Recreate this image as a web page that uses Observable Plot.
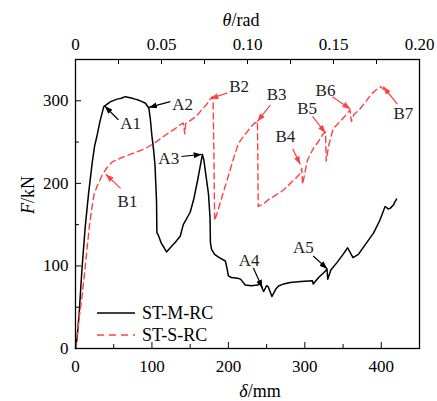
<!DOCTYPE html>
<html><head><meta charset="utf-8">
<script src="https://cdn.jsdelivr.net/npm/d3@7"></script>
<script src="https://cdn.jsdelivr.net/npm/@observablehq/plot@0.6"></script>
<style>body{margin:0;background:#fff}#chart{position:relative;width:437px;height:401px}
#chart svg, #chart svg text{font-family:"Liberation Serif", serif !important}</style>
</head><body><div id="chart"></div>
<script>
// ST-M-RC (black solid)
const mDelta = [0,2,4.8,8.3,12.6,17,22,25,28,32,37,46,54.5,60,65,70,74,78,82,87,91.5,96,98,100,102,104,105,106,106.5,108,112,116,119,124,130,137,141,150,155,160,163,166,168,170,174,176,176.5,178,182,188,196,198,200,204,212,216,222,230,238,242,246,250,252,257,262,266,272,281,295,310,311,318,325,329,330,334,342,350,356,363,370,380,390,398,405,409,412,416,418,420];
const mForce = [0,12,42,94,146,187,226,245,257,275,293,299,302,303,305,304,303,302,301,299,297,291,277,257,242,222,200,178,140,138,128,122,117,122,128,136,150,165,182,205,220,235,228,214,187,158,128,120,114,110,106,98,88,86,85,84,77,76,77,78,69,76,75,63,72,76,78,80,81,82,78,86,92,96,84,95,104,114,122,110,114,127,140,155,172,169,170,174,178,181];
// ST-S-RC (red dashed)
const sDelta = [0,1,4.8,9,13.5,17.9,21,24.4,28,31,35,39.6,48,60,74,89,102,111,120,130,137,141,143,144,150,158,166,172,176,179,180,181,182,186,192,199,206,213,219,225,229,233,238,238.5,239,246,252,259,266,272,277,283,288,294,296,297,300,303,307,311,318,324,327,328,331,337,343,349,355,359,361,364,372,379,386,393,399,403];
const sForce = [0,7,37,66,106,146,168,187,196,202,210,217,226,231,236,241,248,254,260,266,271,273,260,272,276,281,290,296,302,305,300,240,155,166,185,206,228,248,256,263,268,272,275,230,172,175,180,184,188,192,196,202,206,212,218,199,212,227,235,242,251,260,262,227,245,266,272,278,284,289,275,283,290,298,307,313,317,314];
// axes
const xMajorTicks = [0,100,200,300,400];
const xMinorTicks = [50,150,250,350,450];
const yMajorTicks = [0,100,200,300];
const yMinorTicks = [50,150,250,350];
const thetaTicks = [0,0.05,0.10,0.15,0.20];
const thetaTickLabels = ["0","0.05","0.10","0.15","0.20"];
const thetaMinor = [0.025,0.075,0.125,0.175];
const deltaMax = 450, thetaMax = 0.20, forceMax = 350;
// annotations
const annLabel = ["A1","A2","A3","A4","A5","B1","B2","B3","B4","B5","B6","B7"];
const annTipX  = [38.3,96,165,244.4,329.4,39.6,176.5,238,294,327,359.5,402.6];
const annTipY  = [293.6,292,235,73.5,96.4,211,302.4,275,223,261,290,317];
const annTailX = [56,124,138.6,232.7,311,59,198.7,255,284,310,336,421];
const annTailY = [277,299,232.5,97.6,112,194,309.6,295,242,281,305,296];
const annTextX = [72,140,122,227,298,68,214,263,274.5,303,327,429];
const annTextY = [272,296,230,107,122,178,317,307,257,290,313,284];

const RED = "#ff4040", FONT = "Liberation Serif";
const W = 437, H = 401, mL = 75, mR = 18, mT = 59, mB = 53;
const iW = W - mL - mR, iH = H - mT - mB;
const th2d = t => t / thetaMax * deltaMax;
const thetaPos = thetaTicks.map(th2d);

const ann = annLabel.map((l, i) => ({label: l, tx: annTipX[i], ty: annTipY[i], sx: annTailX[i], sy: annTailY[i], lx: annTextX[i], ly: annTextY[i]}));
const annA = ann.filter(d => d.label[0] === "A"), annB = ann.filter(d => d.label[0] === "B");

function filledArrow(color) {
  const m = d3.create("svg:marker")
    .attr("viewBox", "-8 -3 8 6").attr("markerWidth", 8).attr("markerHeight", 6)
    .attr("markerUnits", "userSpaceOnUse").attr("refX", 0).attr("refY", 0).attr("orient", "auto");
  m.append("path").attr("d", "M-8,-3L0,0L-8,3Z").attr("fill", color).attr("stroke", "none");
  return m.node();
}

const svg = Plot.plot({
  width: W, height: H, marginLeft: mL, marginRight: mR, marginTop: mT, marginBottom: mB,
  style: {fontFamily: FONT, fontSize: "17px", color: "#000", background: "#fff"},
  x: {domain: [0, deltaMax]},
  y: {domain: [0, forceMax]},
  marks: [
    Plot.line(mForce, {x: mDelta, y: mForce, stroke: "#000", strokeWidth: 1.5}),
    Plot.line(sForce, {x: sDelta, y: sForce, stroke: RED, strokeWidth: 1.4, strokeDasharray: "6,4"}),
    Plot.link(annA, {x1: "sx", y1: "sy", x2: "tx", y2: "ty", stroke: "#000", strokeWidth: 1.2, markerEnd: filledArrow}),
    Plot.link(annB, {x1: "sx", y1: "sy", x2: "tx", y2: "ty", stroke: RED, strokeWidth: 1.2, markerEnd: filledArrow}),
    Plot.text(ann, {x: "lx", y: "ly", text: "label", fontSize: 17, fill: "#222"}),
    Plot.tickX(xMajorTicks, {x: d => d, insetTop: iH - 6, stroke: "#000"}),
    Plot.tickX(xMinorTicks, {x: d => d, insetTop: iH - 4, stroke: "#000"}),
    Plot.tickY(yMajorTicks, {y: d => d, insetRight: iW - 6, stroke: "#000"}),
    Plot.tickY(yMinorTicks, {y: d => d, insetRight: iW - 4, stroke: "#000"}),
    Plot.tickX(thetaTicks.concat(thetaMinor).map(th2d), {x: d => d, insetBottom: iH - 5, stroke: "#000"}),
    Plot.axisX(xMajorTicks, {anchor: "bottom", tickSize: 0, tickPadding: 11, fontSize: 17, label: null}),
    Plot.axisX(thetaPos, {anchor: "top", tickSize: 0, tickPadding: 10, fontSize: 17, label: null,
      tickFormat: d => thetaTickLabels[thetaPos.indexOf(d)]}),
    Plot.axisY(yMajorTicks, {anchor: "left", tickSize: 0, tickPadding: 7, fontSize: 17, label: null}),
    Plot.frame({stroke: "#000", strokeWidth: 1.3})
  ]
});

const s = d3.select(svg);
function title(x, y, italic, rest, rotate) {
  const t = s.append("text").attr("x", x).attr("y", y).attr("text-anchor", "middle")
    .attr("dominant-baseline", "central").attr("font-size", 18).attr("font-family", FONT).attr("fill", "#000");
  if (rotate) t.attr("transform", `rotate(-90,${x},${y})`);
  t.append("tspan").attr("font-style", "italic").text(italic);
  t.append("tspan").text(rest);
}
title(241, 20, "θ", "/rad");
title(260, 391, "δ", "/mm");
title(28, 195, "F", "/kN", true);

// legend
const leg = s.append("g").attr("font-family", FONT).attr("font-size", 18).attr("text-anchor", "start");
leg.append("line").attr("x1", 97).attr("x2", 135).attr("y1", 313).attr("y2", 313).attr("stroke", "#000").attr("stroke-width", 1.5);
leg.append("text").attr("x", 142).attr("y", 313).attr("text-anchor", "start").attr("dominant-baseline", "central").text("ST-M-RC");
leg.append("line").attr("x1", 97).attr("x2", 135).attr("y1", 335).attr("y2", 335).attr("stroke", RED).attr("stroke-width", 1.4).attr("stroke-dasharray", "7,5");
leg.append("text").attr("x", 142).attr("y", 335).attr("text-anchor", "start").attr("dominant-baseline", "central").text("ST-S-RC");

document.getElementById("chart").appendChild(svg);
</script></body></html>
